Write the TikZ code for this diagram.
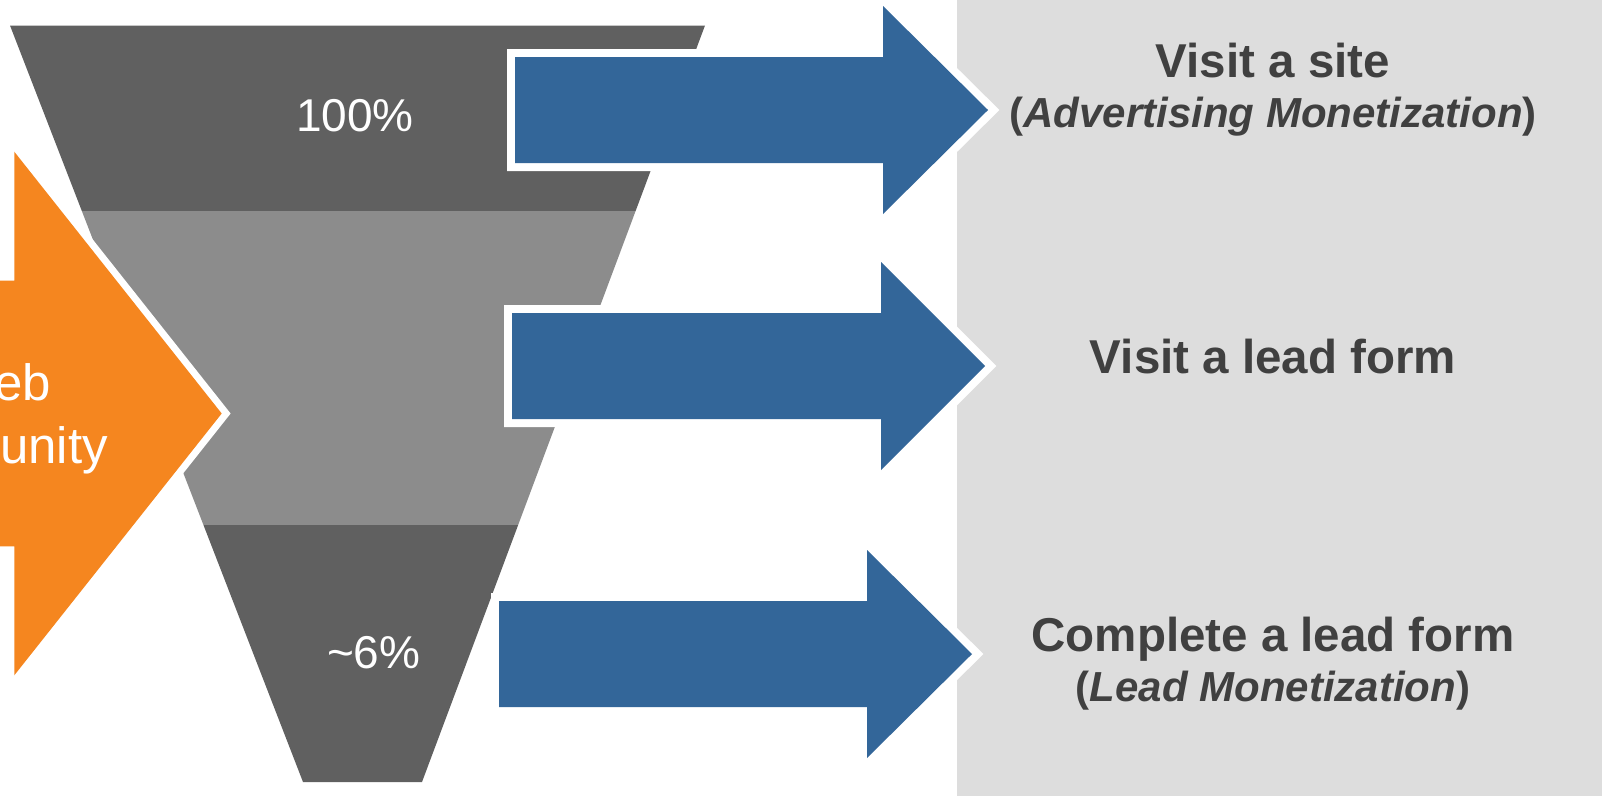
\documentclass[tikz,border=0pt]{standalone}
\usepackage{fontspec}
\setmainfont{Liberation Sans}

\definecolor{funneldark}{HTML}{606060}
\definecolor{funnellight}{HTML}{8C8C8C}
\definecolor{flowblue}{HTML}{336699}
\definecolor{sourceorange}{HTML}{F5861F}
\definecolor{panelgray}{HTML}{DDDDDD}
\definecolor{labeltext}{HTML}{404040}

\begin{document}
\begin{tikzpicture}[x=1pt, y=-1pt,
  outlined/.style 2 args={preaction={draw=white, line width=#2, line join=miter}, fill=#1},
  pct/.style={text=white, inner sep=0pt, font=\fontsize{46}{55}\selectfont},
  srclabel/.style={text=white, inner sep=0pt, font=\fontsize{51}{61}\selectfont},
  headlabel/.style={text=labeltext, inner sep=0pt, font=\fontsize{47.5}{57}\selectfont\bfseries},
  sublabel/.style={text=labeltext, inner sep=0pt, font=\fontsize{42}{50}\selectfont\bfseries}]

\useasboundingbox (0,0) rectangle (1602,796);
\clip (0,0) rectangle (1602,796);

% outcome panel on the right
\fill[panelgray] (957,0) rectangle (1602,796);

% three-band funnel
\begin{scope}
  \clip (10,25.5) -- (705,25.5) -- (422,782) -- (303,782) -- cycle;
  \fill[funneldark]  (0,20)    rectangle (720,211);
  \fill[funnellight] (0,211)   rectangle (720,524.5);
  \fill[funneldark]  (0,524.5) rectangle (720,790);
\end{scope}

% orange source arrow
\path[outlined={sourceorange}{14pt}]
  (-30,280.7) -- (14.3,280.7) -- (14.3,151.7) -- (221.7,413.5)
  -- (14.3,675.3) -- (14.3,546.3) -- (-30,546.3) -- cycle;
\node[srclabel, anchor=base east] (srcA) at (51,400) {Web};
\node[srclabel, anchor=base east] (srcB) at (108,463) {Community};

% blue stage arrows
\path[outlined={flowblue}{16pt}]
  (515,57) -- (883,57) -- (883,6) -- (988,110) -- (883,214) -- (883,163) -- (515,163) -- cycle;
\path[outlined={flowblue}{16pt}]
  (512,313) -- (881,313) -- (881,262) -- (985,366) -- (881,470) -- (881,419) -- (512,419) -- cycle;
\path[outlined={flowblue}{16pt}]
  (499,601) -- (867,601) -- (867,550) -- (972,654) -- (867,758) -- (867,707) -- (499,707) -- cycle;

% funnel percentages
\node[pct, anchor=base] (pTop) at (355,131.7) {100\%};
\node[pct, anchor=base] (pBottom) at (373.7,668.3) {\textasciitilde 6\%};

% outcome labels
\node[headlabel, anchor=base] (siteA) at (1273,77) {Visit a site};
\node[sublabel, anchor=base] (siteB) at (1273,127) {(\textit{Advertising Monetization})};
\node[headlabel, anchor=base] (formVisit) at (1273,373.3) {Visit a lead form};
\node[headlabel, anchor=base] (formA) at (1273,651) {Complete a lead form};
\node[sublabel, anchor=base] (formB) at (1273,701) {(\textit{Lead Monetization})};

\end{tikzpicture}
\end{document}
